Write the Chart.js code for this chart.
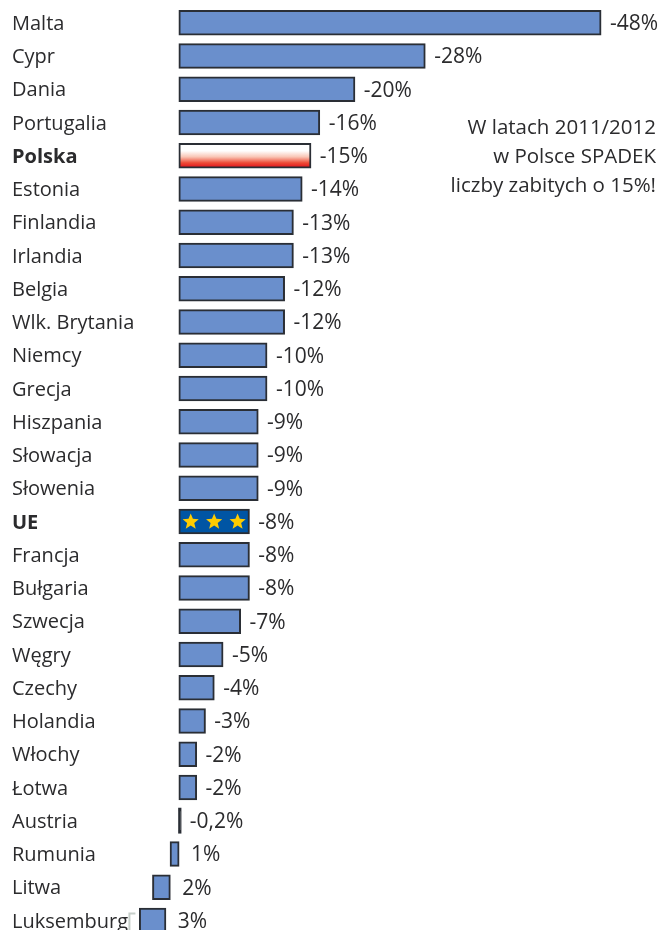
<!DOCTYPE html>
<html lang="pl">
<head>
<meta charset="utf-8">
<title>Spadek liczby zabitych</title>
<script src="https://cdn.jsdelivr.net/npm/chart.js@4/dist/chart.umd.js"></script>
<style>
  html, body { margin: 0; padding: 0; background: #fff; overflow: hidden; height: 930px; }
  canvas { display: block; }
</style>
</head>
<body>
<canvas id="stats" width="661" height="937"></canvas>
<script>
const categories = ['Malta', 'Cypr', 'Dania', 'Portugalia', 'Polska', 'Estonia', 'Finlandia', 'Irlandia',
  'Belgia', 'Wlk. Brytania', 'Niemcy', 'Grecja', 'Hiszpania', 'Słowacja', 'Słowenia', 'UE', 'Francja',
  'Bułgaria', 'Szwecja', 'Węgry', 'Czechy', 'Holandia', 'Włochy', 'Łotwa', 'Austria', 'Rumunia', 'Litwa', 'Luksemburg']
const values = [-48, -28, -20, -16, -15, -14, -13, -13, -12, -12, -10, -10, -9, -9, -9, -8, -8, -8,
  -7, -5, -4, -3, -2, -2, -0.2, 1, 2, 3]
// slupki wzrostow sa przesuniete schodkowo wzgledem zera
const barStarts = [0, 0, 0, 0, 0, 0, 0, 0, 0, 0, 0, 0, 0, 0, 0, 0, 0, 0, 0, 0, 0, 0, 0, 0, 0, 0, 1, 1.5]
const valueLabels = ['-48%', '-28%', '-20%', '-16%', '-15%', '-14%', '-13%', '-13%', '-12%', '-12%', '-10%', '-10%',
  '-9%', '-9%', '-9%', '-8%', '-8%', '-8%', '-7%', '-5%', '-4%', '-3%', '-2%', '-2%', '-0,2%', '1%', '2%', '3%']
const noteLines = ['W latach 2011/2012', 'w Polsce SPADEK', 'liczby zabitych o 15%!']

const FONT = '"Open Sans", sans-serif'
const INK = '#2b2b2d'
const boldRows = ['Polska', 'UE']

function barFill(context) {
  const name = categories[context.dataIndex]
  if (name === 'UE') return '#0055a4'
  if (name === 'Austria') return '#2a2e35'
  if (name === 'Polska') {
    const yScale = context.chart.scales.y
    const top = yScale ? yScale.getPixelForValue(context.dataIndex) - 12 : NaN
    if (!Number.isFinite(top)) return '#fff'
    const grad = context.chart.ctx.createLinearGradient(0, top, 0, top + 24)
    grad.addColorStop(0, '#ffffff')
    grad.addColorStop(0.3, '#ffffff')
    grad.addColorStop(0.55, '#f9c6b6')
    grad.addColorStop(0.8, '#ee4b36')
    grad.addColorStop(1, '#e2101a')
    return grad
  }
  return '#6a8fcc'
}

function drawStar(ctx, cx, cy, r) {
  ctx.beginPath()
  for (let i = 0; i < 10; i++) {
    const rad = i % 2 ? r * 0.44 : r
    const a = -Math.PI / 2 + i * Math.PI / 5
    ctx.lineTo(cx + rad * Math.cos(a), cy + rad * Math.sin(a))
  }
  ctx.closePath()
  ctx.fill()
}

const extras = {
  id: 'extras',
  afterDatasetsDraw(chart) {
    const ctx = chart.ctx
    const bars = chart.getDatasetMeta(0).data
    ctx.save()

    // gwiazdki na slupku UE
    const ue = bars[categories.indexOf('UE')]
    const uePart = (ue.x - ue.base) / 3
    ctx.fillStyle = '#ffcc00'
    for (let i = 0; i < 3; i++) drawStar(ctx, ue.base + uePart * (i + 0.5), ue.y + 0.5, 8.5)

    // wartosci przy slupkach
    ctx.font = '21px ' + FONT
    ctx.fillStyle = INK
    ctx.textAlign = 'left'
    ctx.textBaseline = 'middle'
    bars.forEach((bar, i) => {
      const right = Math.max(bar.x, bar.base)
      ctx.fillText(valueLabels[i], right + (values[i] > 0 ? 12 : 9), bar.y + 1.5)
    })

    // komentarz po prawej
    ctx.font = '20.5px ' + FONT
    ctx.textAlign = 'right'
    noteLines.forEach((line, i) => ctx.fillText(line, 656, 128.5 + i * 29))

    // szary naroznik przy Luksemburgu
    const lux = bars[categories.indexOf('Luksemburg')]
    ctx.strokeStyle = '#c6cec9'
    ctx.lineWidth = 2
    ctx.beginPath()
    ctx.moveTo(lux.x - 10, lux.y + 10)
    ctx.lineTo(lux.x - 10, lux.y - 7)
    ctx.lineTo(lux.x - 4, lux.y - 7)
    ctx.stroke()
    ctx.restore()
  }
}

new Chart(document.getElementById('stats'), {
  type: 'bar',
  data: {
    labels: categories,
    datasets: [{
      data: values.map((v, i) => [barStarts[i], barStarts[i] + v]),
      backgroundColor: barFill,
      borderColor: '#2a2e35',
      borderWidth: 2,
      borderSkipped: false,
      inflateAmount: ctx => categories[ctx.dataIndex] === 'Austria' ? 0.9 : 0.5,
      barThickness: 24.5
    }]
  },
  plugins: [extras],
  options: {
    indexAxis: 'y',
    responsive: false,
    animation: false,
    layout: { padding: { top: 6 } },
    plugins: { legend: { display: false }, tooltip: { enabled: false } },
    scales: {
      x: { display: false, reverse: true, min: -54.83, max: 20.36 },
      y: {
        afterFit(scale) {
          scale.width = 0
          scale.paddingTop = 0
          scale.paddingBottom = 0
        },
        grid: { display: false },
        border: { display: false },
        ticks: {
          mirror: true,
          padding: 12,
          labelOffset: 1.5,
          autoSkip: false,
          color: INK,
          font: ctx => ({
            family: FONT,
            size: 20,
            weight: boldRows.includes(categories[ctx.index]) ? 'bold' : 'normal'
          })
        }
      }
    }
  }
})
</script>
</body>
</html>
